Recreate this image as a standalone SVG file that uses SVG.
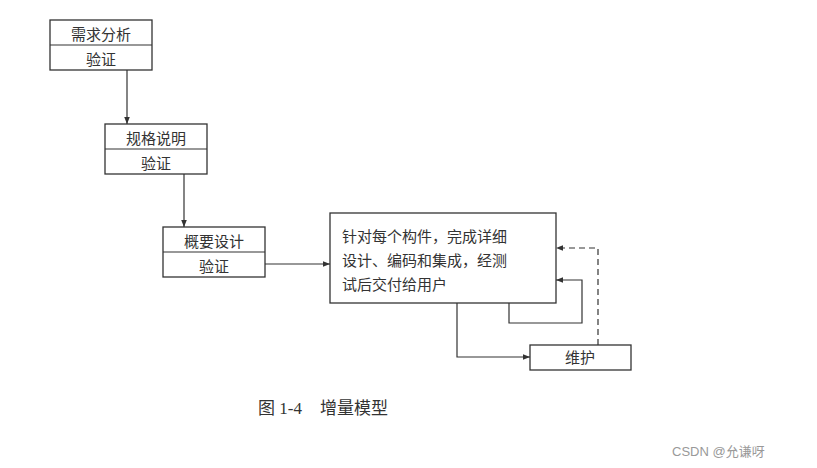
<svg xmlns="http://www.w3.org/2000/svg" width="817" height="468" viewBox="0 0 817 468">
<style>
.b{fill:#fff;stroke:#333;stroke-width:1.3}
.l{fill:none;stroke:#333;stroke-width:1.2}
.t{font-family:"Noto Sans CJK SC",sans-serif;font-size:15px;fill:#333;text-anchor:middle}
.tl{font-family:"Noto Sans CJK SC",sans-serif;font-size:15px;fill:#333}
.c{font-family:"Liberation Serif","Noto Sans CJK SC",serif;font-size:17px;fill:#333}
</style>
<defs><marker id="a" viewBox="0 0 10 10" refX="10" refY="5" markerWidth="9" markerHeight="7" orient="auto" markerUnits="userSpaceOnUse"><path d="M0,1L10,5L0,9z" fill="#333"/></marker></defs>
<rect width="817" height="468" fill="#fff"/>
<g id="n1"><rect class="b" x="50" y="20" width="102" height="50"/><line class="l" x1="50" y1="45" x2="152" y2="45"/><text class="t" x="101" y="40">需求分析</text><text class="t" x="101" y="65">验证</text></g>
<g id="n2"><rect class="b" x="105" y="124" width="102" height="50"/><line class="l" x1="105" y1="149" x2="207" y2="149"/><text class="t" x="156" y="144">规格说明</text><text class="t" x="156" y="169">验证</text></g>
<g id="n3"><rect class="b" x="163" y="227" width="102" height="50"/><line class="l" x1="163" y1="252" x2="265" y2="252"/><text class="t" x="214" y="247">概要设计</text><text class="t" x="214" y="272">验证</text></g>
<g id="n4"><rect class="b" x="330" y="213" width="226" height="90"/><text class="tl" x="342" y="242">针对每个构件，完成详细</text><text class="tl" x="342" y="266">设计、编码和集成，经测</text><text class="tl" x="342" y="290">试后交付给用户</text></g>
<g id="n5"><rect class="b" x="530" y="345" width="101" height="25"/><text class="t" x="580" y="363">维护</text></g>
<g id="edges">
<line class="l" x1="127" y1="70" x2="127" y2="124" marker-end="url(#a)"/>
<line class="l" x1="184" y1="174" x2="184" y2="227" marker-end="url(#a)"/>
<line class="l" x1="265" y1="264" x2="330" y2="264" marker-end="url(#a)"/>
<polyline class="l" points="457,303 457,357 530,357" marker-end="url(#a)"/>
<polyline class="l" points="509,303 509,323 582,323 582,280 556,280" marker-end="url(#a)"/>
<polyline class="l" points="598,345 598,248 556,248" stroke-dasharray="6,4" marker-end="url(#a)"/>
</g>
<text class="c" x="258" y="414">图 1-4</text>
<text class="c" x="320" y="414">增量模型</text>
<text x="672" y="456" style="font-family:'Liberation Sans','Noto Sans CJK SC',sans-serif;font-size:13px;fill:#999">CSDN @允谦呀</text>
</svg>
